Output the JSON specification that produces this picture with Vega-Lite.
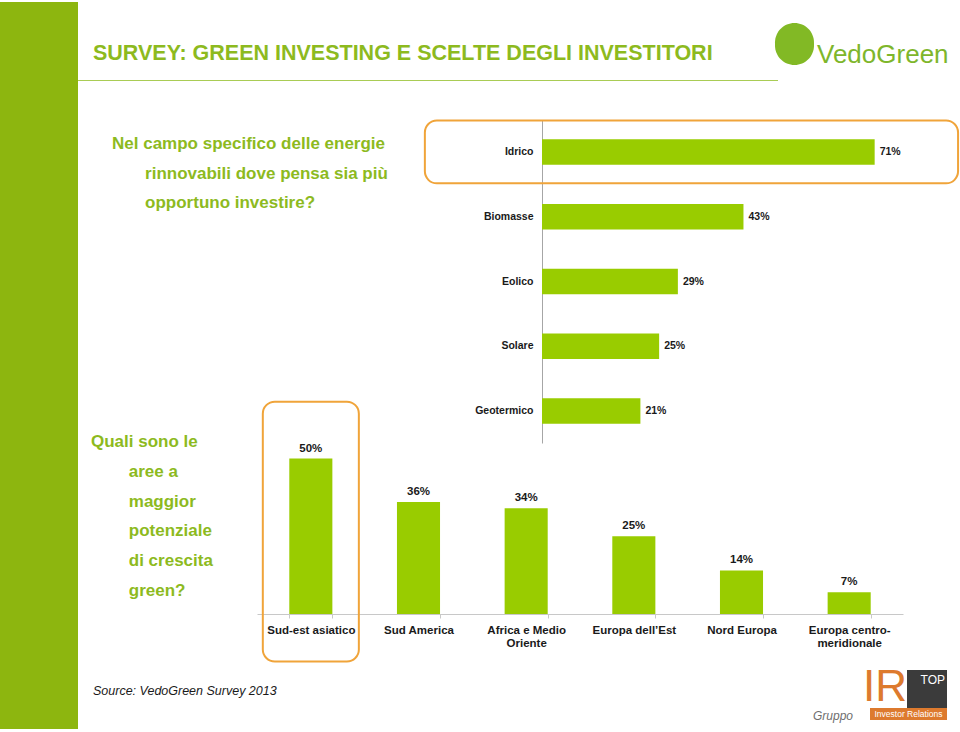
{
  "$schema": "https://vega.github.io/schema/vega-lite/v6.json",
  "padding": {"left": 0, "top": 2, "right": 0, "bottom": 0},
  "background": "white",
  "config": {"view": {"stroke": null}, "font": "Liberation Sans"},
  "datasets": {
    "energie": [
      {"fonte": "Idrico", "quota": 0.71},
      {"fonte": "Biomasse", "quota": 0.43},
      {"fonte": "Eolico", "quota": 0.29},
      {"fonte": "Solare", "quota": 0.25},
      {"fonte": "Geotermico", "quota": 0.21}
    ],
    "aree": [
      {"area": "Sud-est asiatico", "quota": 0.50},
      {"area": "Sud America", "quota": 0.36},
      {"area": "Africa e Medio Oriente", "quota": 0.34},
      {"area": "Europa dell’Est", "quota": 0.25},
      {"area": "Nord Europa", "quota": 0.14},
      {"area": "Europa centro-meridionale", "quota": 0.07}
    ]
  },
  "bounds": "flush",
  "spacing": 0,
  "hconcat": [
    {"width": 78, "height": 727, "view": {"fill": "#8DB60F", "stroke": null}, "data": {"values": []}, "mark": "point"},
    {
      "bounds": "flush",
      "spacing": 0,
      "vconcat": [
        {
          "bounds": "flush", "spacing": 0,
          "hconcat": [
            {"width": 737, "height": 78, "data": {"values": []}, "mark": "point",
             "title": {"text": "SURVEY: GREEN INVESTING E SCELTE DEGLI INVESTITORI", "anchor": "start", "frame": "group", "dx": 15, "offset": -62, "fontSize": 21.5, "fontWeight": "bold", "color": "#8DBA1E", "font": "Liberation Sans"}},
            {"width": 145, "height": 78, "data": {"values": []}, "mark": "point",
             "title": {"text": "VedoGreen", "anchor": "start", "frame": "group", "dx": 2, "offset": -66, "fontSize": 26, "fontWeight": "normal", "color": "#7EB62B", "font": "Liberation Sans"}}
          ]
        },
        {"width": 1, "height": 21, "data": {"values": []}, "mark": "point"},
        {
          "bounds": "flush", "spacing": 0,
          "hconcat": [
            {"width": 697, "height": 1, "data": {"values": []}, "mark": "point"},
            {"width": 39, "height": 42, "view": {"fill": "#82B925", "stroke": null, "cornerRadius": 20}, "data": {"values": []}, "mark": "point"}
          ]
        },
        {"width": 1, "height": 57, "data": {"values": []}, "mark": "point"},
        {"width": 700, "height": 1, "view": {"fill": "#A9CC55", "stroke": null}, "data": {"values": []}, "mark": "point"},
        {"width": 1, "height": 39, "data": {"values": []}, "mark": "point"},
        {
          "bounds": "flush", "spacing": 0,
          "hconcat": [
            {"width": 464, "height": 323, "data": {"values": []}, "mark": "point",
             "title": {"text": ["Nel campo specifico delle energie", "\u200b\u00a0\u00a0\u00a0\u00a0\u00a0\u00a0\u00a0rinnovabili dove pensa sia più", "\u200b\u00a0\u00a0\u00a0\u00a0\u00a0\u00a0\u00a0opportuno investire?"], "anchor": "start", "frame": "group", "dx": 34, "offset": -92, "fontSize": 17, "lineHeight": 29.5, "fontWeight": "bold", "color": "#8DBA1E", "font": "Liberation Sans"}},
            {
              "width": 417,
              "height": 323,
              "data": {"name": "energie"},
              "encoding": {
                "y": {
                  "field": "fonte",
                  "type": "nominal",
                  "scale": {"domain": ["Idrico", "Biomasse", "Eolico", "Solare", "Geotermico"], "paddingInner": 0.607, "paddingOuter": 0.296},
                  "axis": {"title": null, "domainColor": "#A6A6A6", "domainWidth": 1, "ticks": false, "labelPadding": 9, "labelFontSize": 10.5, "labelFontWeight": "bold", "labelColor": "#1a1a1a", "grid": false}
                }
              },
              "layer": [
                {"mark": {"type": "bar", "color": "#99CC00"},
                 "encoding": {"x": {"field": "quota", "type": "quantitative", "scale": {"domain": [0, 0.89], "nice": false}, "axis": null}}},
                {"mark": {"type": "text", "align": "left", "baseline": "middle", "dx": 5, "fontSize": 10.5, "fontWeight": "bold", "color": "#1a1a1a"},
                 "encoding": {"x": {"field": "quota", "type": "quantitative"}, "text": {"field": "quota", "type": "quantitative", "format": ".0%"}}},
                {"transform": [{"filter": "datum.fonte === 'Idrico'"}],
                 "mark": {"type": "bar", "fillOpacity": 0, "stroke": "#F0A43A", "strokeWidth": 2, "cornerRadius": 12, "height": {"band": 2.47}},
                 "encoding": {"x": {"datum": -0.25, "type": "quantitative"}, "x2": {"datum": 0.888}}}
              ]
            }
          ]
        },
        {"width": 1, "height": 323, "data": {"values": []}, "mark": "point"},
        {
          "bounds": "flush", "spacing": 0,
          "hconcat": [
            {"width": 179, "height": 171, "data": {"values": []}, "mark": "point",
             "title": {"text": ["Quali sono le", "\u200b\u00a0\u00a0\u00a0\u00a0\u00a0\u00a0\u00a0\u00a0aree a", "\u200b\u00a0\u00a0\u00a0\u00a0\u00a0\u00a0\u00a0\u00a0maggior", "\u200b\u00a0\u00a0\u00a0\u00a0\u00a0\u00a0\u00a0\u00a0potenziale", "\u200b\u00a0\u00a0\u00a0\u00a0\u00a0\u00a0\u00a0\u00a0di crescita", "\u200b\u00a0\u00a0\u00a0\u00a0\u00a0\u00a0\u00a0\u00a0green?"], "anchor": "start", "frame": "group", "dx": 13, "offset": -157, "fontSize": 17, "lineHeight": 29.8, "fontWeight": "bold", "color": "#8DBA1E", "font": "Liberation Sans"}},
            {
              "width": 646,
              "height": 171,
              "data": {"name": "aree"},
              "encoding": {
                "x": {
                  "field": "area",
                  "type": "nominal",
                  "scale": {"domain": ["Sud-est asiatico", "Sud America", "Africa e Medio Oriente", "Europa dell’Est", "Nord Europa", "Europa centro-meridionale"], "paddingInner": 0.6, "paddingOuter": 0.3},
                  "axis": {"title": null, "labelAngle": 0, "domainColor": "#C8C8C8", "tickColor": "#C8C8C8", "tickSize": 4, "tickBand": "extent", "labelPadding": 6, "labelFontSize": 11.5, "labelFontWeight": "bold", "labelColor": "#1a1a1a", "labelLineHeight": 13, "labelOverlap": false, "labelBaseline": "top", "grid": false,
                           "labelExpr": "datum.label === 'Africa e Medio Oriente' ? ['Africa e Medio', 'Oriente'] : datum.label === 'Europa centro-meridionale' ? ['Europa centro-', 'meridionale'] : datum.label"}
                }
              },
              "layer": [
                {"mark": {"type": "bar", "color": "#99CC00"},
                 "encoding": {"y": {"field": "quota", "type": "quantitative", "scale": {"domain": [0, 0.55], "nice": false}, "axis": null}}},
                {"mark": {"type": "text", "baseline": "bottom", "dy": -5, "fontSize": 11.5, "fontWeight": "bold", "color": "#1a1a1a"},
                 "encoding": {"y": {"field": "quota", "type": "quantitative"}, "text": {"field": "quota", "type": "quantitative", "format": ".0%"}}},
                {"transform": [{"filter": "datum.area === 'Sud-est asiatico'"}],
                 "mark": {"type": "bar", "fillOpacity": 0, "stroke": "#F0A43A", "strokeWidth": 2, "cornerRadius": 12, "width": {"band": 2.23}},
                 "encoding": {"y": {"datum": 0.683, "type": "quantitative"}, "y2": {"datum": -0.153}}}
              ]
            }
          ]
        },
        {"width": 1, "height": 171, "data": {"values": []}, "mark": "point"},
        {
          "bounds": "flush", "spacing": 0,
          "hconcat": [
            {"width": 735, "height": 1, "data": {"values": []}, "mark": "point",
             "title": {"text": "Source: VedoGreen Survey 2013", "anchor": "start", "frame": "group", "dx": 15, "offset": -83, "fontSize": 12.5, "fontWeight": "normal", "fontStyle": "italic", "color": "#1a1a1a", "font": "Liberation Sans"}},
            {"width": 40, "height": 56, "data": {"values": []}, "mark": "point",
             "title": {"text": "Gruppo", "anchor": "end", "frame": "group", "offset": -109, "fontSize": 12, "fontWeight": "normal", "fontStyle": "italic", "color": "#6E6E6E", "font": "Liberation Sans"}},
            {"width": 54, "height": 56, "data": {"values": []}, "mark": "point",
             "title": {"text": "IR", "anchor": "end", "frame": "group", "offset": -95.5, "fontSize": 44, "fontWeight": "normal", "color": "#DD7A2E", "font": "Liberation Sans"}}
          ]
        },
        {"width": 1, "height": 56, "data": {"values": []}, "mark": "point"},
        {
          "bounds": "flush", "spacing": 0,
          "hconcat": [
            {"width": 829, "height": 1, "data": {"values": []}, "mark": "point"},
            {"width": 40, "height": 38, "view": {"fill": "#3B3B3B", "stroke": null}, "data": {"values": []}, "mark": "point",
             "title": {"text": "TOP", "anchor": "end", "frame": "group", "dx": -2, "offset": -17, "fontSize": 12, "fontWeight": "normal", "color": "#FFFFFF", "font": "Liberation Sans"}}
          ]
        },
        {"width": 1, "height": 38, "data": {"values": []}, "mark": "point"},
        {
          "bounds": "flush", "spacing": 0,
          "hconcat": [
            {"width": 792, "height": 1, "data": {"values": []}, "mark": "point"},
            {"width": 77, "height": 12, "view": {"fill": "#DD7A2E", "stroke": null}, "data": {"values": []}, "mark": "point",
             "title": {"text": "Investor Relations", "anchor": "middle", "frame": "group", "offset": -10.5, "fontSize": 8.5, "fontWeight": "normal", "color": "#FFFFFF", "font": "Liberation Sans"}}
          ]
        }
      ]
    }
  ]
}
